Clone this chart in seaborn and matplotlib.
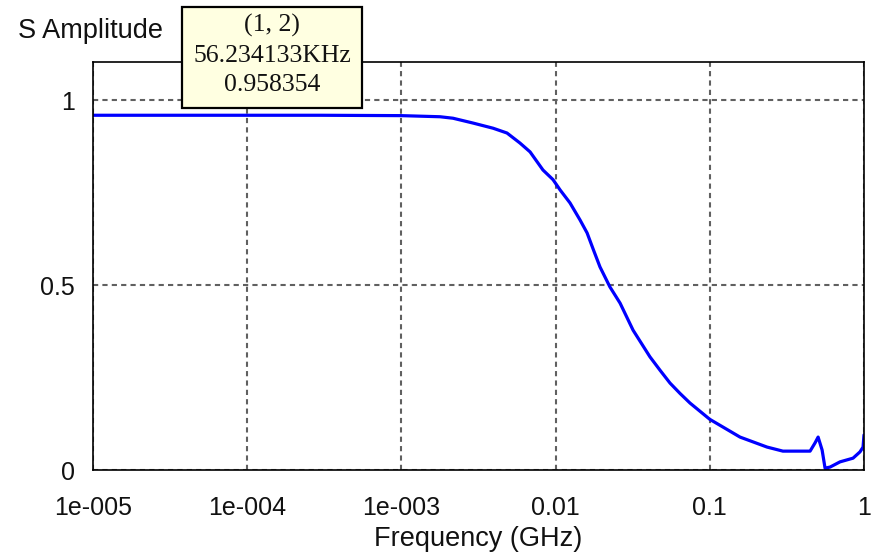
import pandas as pd
import matplotlib
matplotlib.use("Agg")
import matplotlib.pyplot as plt
import matplotlib.patches as patches
import seaborn as sns

#%%
#  Data

freq_ghz = [1e-5, 3e-5, 1e-4, 3e-4, 1e-3, 1.78e-3, 2.16e-3, 2.91e-3, 3.93e-3,
            4.84e-3, 5.87e-3, 6.83e-3, 8.28e-3, 9.62e-3, 1.07e-2, 1.24e-2,
            1.44e-2, 1.60e-2, 1.76e-2, 1.94e-2, 2.25e-2, 2.62e-2, 2.89e-2,
            3.18e-2, 4.09e-2, 4.75e-2, 5.52e-2, 6.41e-2, 7.44e-2,
            0.100, 0.157, 0.235, 0.298, 0.447, 0.481, 0.504, 0.535, 0.559,
            0.603, 0.699, 0.849, 0.942, 0.986, 1.0]
s_amp = [0.959, 0.959, 0.959, 0.959, 0.958, 0.955, 0.951, 0.938, 0.924,
         0.911, 0.884, 0.860, 0.811, 0.785, 0.757, 0.722,
         0.676, 0.641, 0.595, 0.549, 0.495, 0.451, 0.414,
         0.378, 0.306, 0.270, 0.235, 0.207, 0.181,
         0.137, 0.089, 0.062, 0.051, 0.051, 0.073, 0.089, 0.054, 0.005,
         0.008, 0.022, 0.032, 0.049, 0.062, 0.095]

x_ticks = [1e-5, 1e-4, 1e-3, 1e-2, 1e-1, 1]
x_tick_labels = ["1e-005", "1e-004", "1e-003", "0.01", "0.1", "1"]
y_ticks = [0, 0.5, 1]
y_tick_labels = ["0", "0.5", "1"]

tip_lines = ["(1, 2)", "56.234133KHz", "0.958354"]

df = pd.DataFrame({"freq": freq_ghz, "amp": s_amp})

#%%
#  Plot

sns.set_style("white")
plt.rcParams["font.family"] = ["Liberation Sans", "DejaVu Sans"]

fig = plt.figure(figsize=(8.74, 5.55), dpi=100)
ax = fig.add_axes([93 / 874, 1 - 470 / 555, 771 / 874, 408 / 555])

sns.lineplot(data=df, x="freq", y="amp", color="#0000ff", linewidth=2.3, ax=ax)

ax.set_xscale("log")
ax.set_xlim(1e-5, 1)
ax.set_ylim(0, 1.103)
ax.set_xticks(x_ticks)
ax.set_xticklabels(x_tick_labels)
ax.set_yticks(y_ticks)
ax.set_yticklabels(y_tick_labels)
ax.minorticks_off()
ax.tick_params(axis="x", length=0, pad=19, labelsize=18, colors="#111111")
ax.tick_params(axis="y", length=0, pad=13, labelsize=18, colors="#111111")

ax.grid(True, color="#606060", linestyle=(0, (2.5, 2)), linewidth=1.5)
for s in ax.spines.values():
    s.set_color("black")
    s.set_linewidth(1.2)

ax.set_xlabel("Frequency (GHz)", fontsize=19.5, labelpad=4, color="#111111")
ax.set_ylabel("S Amplitude", fontsize=19.5, rotation=0, ha="left", va="center",
              color="#111111")
ax.yaxis.set_label_coords(-0.097, 1.077)

# hover tooltip box
fig.patches.append(patches.Rectangle((182 / 874, 1 - 108 / 555), 180 / 874, 101 / 555,
                                     transform=fig.transFigure, facecolor="#ffffe1",
                                     edgecolor="black", linewidth=1.6, zorder=5))
fig.text(272 / 874, 1 - 55 / 555, "\n".join(tip_lines), ha="center", va="center",
         fontsize=18.5, family=["Liberation Serif", "DejaVu Serif"],
         linespacing=1.42, color="#111111", zorder=6)

fig.savefig("out.png", dpi=100)
